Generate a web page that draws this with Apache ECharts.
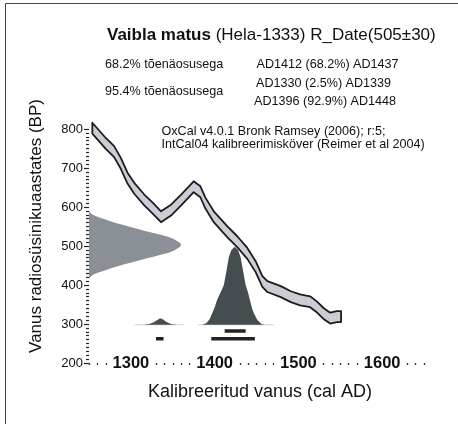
<!DOCTYPE html>
<html><head><meta charset="utf-8">
<script src="https://cdn.jsdelivr.net/npm/echarts@6/dist/echarts.min.js"></script>
<style>html,body{margin:0;padding:0;background:#fff}#c{width:458px;height:424px}</style>
</head><body><div id="c"></div>
<script>
// Calibration curve (IntCal04): calendar year, BP centre, half-width
const curveYears = [1254,1270,1280,1288,1296,1304,1316,1326,1336,1348,1360,1375,1383,1389,1399,1415,1427,1439,1449,1457,1463,1479,1491,1502,1514,1522,1530,1538,1546,1551];
const curveBP    = [802,763,742,712,674,648,618,597,575,592,618,652,639,610,575,537,511,481,447,409,396,383,370,362,357,344,327,315,319,319];
const curveSigma = [14,14,14,14,14,14,14,14,14,14,14,14,14,14,14,14,14,14,14,14,14,14,14,14,14,14,14,14,14,14];

// Radiocarbon date distribution (505±30 BP), relative probability
const dateBP   = [593,588,583,578,573,568,563,558,553,548,543,538,533,528,523,518,513,508,503,498,493,488,483,478,473,468,463,458,453,448,443,438,433,428,423,418,413];
const dateProb = [0,0.005,0.025,0.06,0.11,0.18,0.24,0.31,0.385,0.46,0.54,0.62,0.71,0.79,0.865,0.92,0.955,0.99,1,0.99,0.955,0.92,0.865,0.79,0.71,0.62,0.54,0.46,0.385,0.31,0.24,0.18,0.11,0.06,0.025,0.005,0];

// Calibrated distribution, relative probability
const calYearsA = [1315,1322,1328,1332,1335,1338,1342,1348,1355];
const calProbA  = [0,0.01,0.035,0.065,0.083,0.07,0.04,0.01,0];
const calYearsB = [1385,1390,1394,1397,1400,1403,1407,1411,1414,1417,1420,1424,1428,1431,1434,1437,1440,1442,1445,1447,1451,1456,1460];
const calProbB  = [0,0.02,0.07,0.145,0.22,0.32,0.41,0.51,0.68,0.87,0.96,1,0.96,0.87,0.69,0.51,0.41,0.32,0.2,0.145,0.06,0.01,0];
const calBaseRanges = [[1304,1363],[1380,1471]];

// Ranges
const range68 = [[1412,1437]];
const range95 = [[1330,1339],[1396,1448]];

// Axis ticks
const xTickLabels = [1300,1400,1500,1600];
const yTickLabels = [200,300,400,500,600,700,800];

// scale helpers (sizes, not data)
const DIST_WIDTH_YEARS = 110;
const CAL_BASE_BP = 298;
const CAL_HEIGHT_BP = 200;
const LEVEL68 = 282, LEVEL95 = 262;

const FONT = "'Liberation Sans', Arial, sans-serif";
const chart = echarts.init(document.getElementById('c'), null, {renderer:'canvas'});

function polygonSeries(getPts, style, z) {
  return {
    type:'custom', coordinateSystem:'cartesian2d', z: z, silent:true, clip:false,
    data:[[1300,500]],
    renderItem:(params, api) => ({type:'polygon', shape:{points:getPts().map(p => api.coord(p))}, style: style})
  };
}

const series = [];
series.push(polygonSeries(() => {
  const pts = dateBP.map((b,i) => [1250 + dateProb[i]*DIST_WIDTH_YEARS, b]);
  pts.unshift([1250, dateBP[0]]); pts.push([1250, dateBP[dateBP.length-1]]);
  return pts;
}, {fill:'#8a9095'}, 2));
calBaseRanges.forEach(r => series.push({type:'line', silent:true, symbol:'none', z:2,
  data:[[r[0],CAL_BASE_BP],[r[1],CAL_BASE_BP]], lineStyle:{color:'#d2d2d2', width:1}}));
[[calYearsA, calProbA],[calYearsB, calProbB]].forEach(([ys, ps]) => {
  series.push(polygonSeries(() => ys.map((y,i) => [y, CAL_BASE_BP + ps[i]*CAL_HEIGHT_BP]), {fill:'#464d50'}, 3));
});
series.push(polygonSeries(() => {
  const up = curveYears.map((y,i) => [y, curveBP[i] + curveSigma[i]]);
  const lo = curveYears.map((y,i) => [y, curveBP[i] - curveSigma[i]]).reverse();
  return up.concat(lo);
}, {fill:'#cbccd5', stroke:'#1c1c1c', lineWidth:1.8, lineJoin:'round'}, 4));
range68.forEach(r => series.push({type:'line', silent:true, symbol:'none', z:5,
  data:[[r[0],LEVEL68],[r[1],LEVEL68]], lineStyle:{color:'#222', width:3.5, cap:'butt'}}));
range95.forEach(r => series.push({type:'line', silent:true, symbol:'none', z:5,
  data:[[r[0],LEVEL95],[r[1],LEVEL95]], lineStyle:{color:'#222', width:3.5, cap:'butt'}}));

const small = {fontSize:12.6, fill:'#111', fontFamily:FONT, verticalAlign:'middle'};
function txt(x, y, s, extra) {
  return {type:'text', x:x, y:y, silent:true, z:10, style:Object.assign({text:s}, small, extra||{})};
}

chart.setOption({
  animation:false,
  textStyle:{fontFamily:FONT},
  grid:{left:89, right:34, top:129, bottom:61, containLabel:false},
  xAxis:{type:'value', min:1250, max:1650, interval:50,
    axisLine:{show:false}, splitLine:{show:false},
    axisTick:{show:true, length:2, lineStyle:{color:'#333', width:1.3}},
    minorTick:{show:true, splitNumber:5, length:2, lineStyle:{color:'#333', width:1.3}},
    axisLabel:{margin:0, verticalAlign:'middle',
      formatter: v => xTickLabels.indexOf(v) >= 0 ? '{a|' + v + '}' : '',
      rich:{a:{fontSize:16.5, fontWeight:'bold', color:'#111', fontFamily:FONT, backgroundColor:'#fff', padding:[0,3]}}}
  },
  yAxis:{type:'value', min:200, max:800, interval:100,
    axisLine:{show:false}, splitLine:{show:false},
    axisTick:{show:true, length:5, lineStyle:{color:'#222', width:1.2}},
    minorTick:{show:true, splitNumber:10, length:3, lineStyle:{color:'#222', width:1.2}},
    axisLabel:{margin:6, fontSize:13, color:'#111', fontFamily:FONT,
      formatter: v => yTickLabels.indexOf(v) >= 0 ? String(v) : ''}
  },
  graphic:[
    {type:'rect', silent:true, shape:{x:5.5, y:3.5, width:600, height:600}, style:{fill:'none', stroke:'#444', lineWidth:1}},
    {type:'text', x:107, y:35, silent:true, style:{text:'{b|Vaibla matus} (Hela-1333) R_Date(505±30)', fontSize:17, fill:'#111', fontFamily:FONT, verticalAlign:'middle',
      rich:{b:{fontSize:17, fontWeight:'bold', fill:'#111', fontFamily:FONT}}}},
    txt(105, 65, '68.2% tõenäosusega'),
    txt(256.5, 65, 'AD1412 (68.2%) AD1437'),
    txt(105, 91.5, '95.4% tõenäosusega'),
    txt(256, 83.5, 'AD1330 (2.5%) AD1339'),
    txt(254, 102, 'AD1396 (92.9%) AD1448'),
    txt(161.5, 131.5, 'OxCal v4.0.1 Bronk Ramsey (2006); r:5;'),
    txt(161.5, 145, 'IntCal04 kalibreerimisköver (Reimer et al 2004)'),
    {type:'text', x:260, y:392, silent:true, style:{text:'Kalibreeritud vanus (cal AD)', fontSize:18, fill:'#111', fontFamily:FONT, align:'center', verticalAlign:'middle'}},
    {type:'text', x:36, y:226, rotation:Math.PI/2, silent:true, style:{text:'Vanus radiosüsinikuaastates (BP)', fontSize:17, fill:'#111', fontFamily:FONT, align:'center', verticalAlign:'middle'}}
  ],
  series: series
});
</script></body></html>
